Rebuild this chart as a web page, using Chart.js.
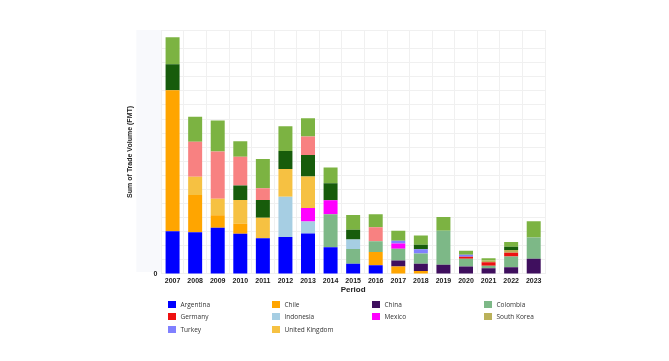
<!DOCTYPE html>
<html>
<head>
<meta charset="utf-8">
<script src="https://cdn.jsdelivr.net/npm/chart.js@4.4.1/dist/chart.umd.min.js"></script>
<style>
  html, body { margin: 0; padding: 0; background: #fff; }
  #wrap { position: relative; width: 669px; height: 361px; }
  #legend { position: absolute; left: 0; top: 0; width: 669px; height: 361px; pointer-events: none; }
  .lg-item { position: absolute; display: flex; align-items: center; font-family: 'Open Sans', sans-serif; font-size: 6.5px; color: #333; white-space: nowrap; }
  .lg-box { width: 8px; height: 7px; margin-right: 4.5px; }
</style>
</head>
<body>
<div id="wrap">
  <canvas id="tradeChart" width="669" height="361"></canvas>
  <div id="legend"></div>
</div>
<script>
(function () {
    'use strict';

    // ========================================
    // DATA
    // ========================================

    const years = ['2007', '2008', '2009', '2010', '2011', '2012', '2013', '2014', '2015',
        '2016', '2017', '2018', '2019', '2020', '2021', '2022', '2023'];

    const argentina     = [42.5, 41.5, 45.8, 39.8, 35.5, 36.8, 40.2, 26.5, 10.2, 8.5, 0, 0, 0, 0, 0, 0, 0];
    const chile         = [140, 37, 12.4, 10, 0, 0, 0, 0, 0, 13.3, 7.3, 3, 0, 0, 0, 0, 0];
    const china         = [0, 0, 0, 0, 0, 0, 0, 0, 0, 0, 6, 7, 9, 7.3, 5.7, 6.7, 15];
    const colombia      = [0, 0, 0, 0, 0, 0, 0, 32.7, 14.6, 10.7, 11.7, 10.3, 34, 7.7, 2.3, 10.6, 21.3];
    const germany       = [0, 0, 0, 0, 0, 0, 0, 0, 0, 0, 0, 0, 0, 2, 3.7, 3.7, 0];
    const indonesia     = [0, 0, 0, 0, 0, 40, 12, 0, 9.4, 0, 0, 0, 0, 0, 0, 0, 0];
    const mexico        = [0, 0, 0, 0, 0, 0, 13.3, 14, 0, 0, 5.3, 0, 0, 0, 0, 0, 0];
    const southKorea    = [0, 0, 0, 0, 0, 0, 0, 0, 0, 0, 0, 0, 0, 0, 1.5, 2.7, 0];
    const turkey        = [0, 0, 0, 0, 0, 0, 0, 0, 0, 0, 2.7, 4.3, 0, 2, 0, 0, 0];
    const unitedKingdom = [0, 18, 16.6, 23.7, 20.3, 27.4, 31.3, 0, 0, 0, 0, 0, 0, 0, 0, 0, 0];
    // series drawn in the bars but not listed in the legend
    const other1        = [26, 0, 0, 14.3, 17.7, 18, 21.4, 17, 9.6, 0, 0, 4.4, 0, 0, 0, 3.3, 0];
    const other2        = [0, 35, 47, 28.7, 11.7, 0, 18.3, 0, 0, 14, 0, 0, 0, 0, 0, 0, 0];
    const other3        = [26.7, 24.7, 30.6, 15.3, 29, 24.6, 18.3, 15.6, 14.7, 12.7, 10, 9.3, 13.6, 4, 2.3, 4.7, 16];

    const series = [
        { label: 'Argentina', data: argentina, color: '#0000ff', legend: true },
        { label: 'Chile', data: chile, color: '#ffa500', legend: true },
        { label: 'China', data: china, color: '#3f0f5e', legend: true },
        { label: 'Colombia', data: colombia, color: '#7db887', legend: true },
        { label: 'Germany', data: germany, color: '#ee1111', legend: true },
        { label: 'Indonesia', data: indonesia, color: '#a6cee3', legend: true },
        { label: 'Mexico', data: mexico, color: '#ff00ff', legend: true },
        { label: 'South Korea', data: southKorea, color: '#bab15a', legend: true },
        { label: 'Turkey', data: turkey, color: '#8080ff', legend: true },
        { label: 'United Kingdom', data: unitedKingdom, color: '#f6c142', legend: true },
        { label: 'Other 1', data: other1, color: '#175c0b', legend: false },
        { label: 'Other 2', data: other2, color: '#f88181', legend: false },
        { label: 'Other 3', data: other3, color: '#7cb342', legend: false }
    ];

    // ========================================
    // CHART
    // ========================================

    const axisFont = { family: "'Liberation Sans', Arial, sans-serif", weight: 'bold' };

    // faint panel to the left of the plot area
    const sideStrip = {
        id: 'sideStrip',
        beforeDraw(chart) {
            const a = chart.chartArea;
            const c = chart.ctx;
            c.save();
            c.fillStyle = '#f8f9fc';
            c.fillRect(a.left - 25, a.top, 25, a.bottom - a.top - 2);
            c.restore();
        }
    };

    const ctx = document.getElementById('tradeChart');

    new Chart(ctx, {
        type: 'bar',
        data: {
            labels: years,
            datasets: series.map(s => ({
                label: s.label,
                data: s.data,
                backgroundColor: s.color,
                borderWidth: 0,
                barPercentage: 0.62,
                categoryPercentage: 1
            }))
        },
        options: {
            responsive: false,
            animation: false,
            layout: { padding: { left: 125.5, right: 124, top: 30, bottom: 66.4 } },
            plugins: {
                legend: { display: false },
                tooltip: { enabled: false }
            },
            scales: {
                x: {
                    stacked: true,
                    grid: { color: '#f0f0f0', drawTicks: false },
                    border: { display: false },
                    ticks: { color: '#222', padding: 2.6, font: { ...axisFont, size: 7 } },
                    title: {
                        display: true, text: 'Period', color: '#222',
                        padding: { top: -2.5, bottom: 0 }, font: { ...axisFont, size: 8 }
                    }
                },
                y: {
                    stacked: true,
                    min: 0,
                    max: 242.5,
                    grid: { color: '#f0f0f0', drawTicks: false },
                    border: { display: false },
                    ticks: {
                        stepSize: 14,
                        color: '#222',
                        padding: 4,
                        font: { ...axisFont, size: 7 },
                        callback: v => (v === 0 ? '0' : '')
                    },
                    title: {
                        display: true, text: 'Sum of Trade Volume (FMT)', color: '#222',
                        padding: { top: 0, bottom: 15.5 }, font: { ...axisFont, size: 7 }
                    }
                }
            }
        },
        plugins: [sideStrip]
    });

    // ========================================
    // LEGEND (4 columns, row-major)
    // ========================================

    const colX = [168, 272, 372, 484];
    const rowY = [300, 312, 325];
    const legendEl = document.getElementById('legend');
    series.filter(s => s.legend).forEach((s, i) => {
        const item = document.createElement('div');
        item.className = 'lg-item';
        item.style.left = colX[i % 4] + 'px';
        item.style.top = rowY[Math.floor(i / 4)] + 'px';
        item.innerHTML = '<span class="lg-box" style="background:' + s.color + '"></span>' + s.label;
        legendEl.appendChild(item);
    });
})();
</script>
</body>
</html>
